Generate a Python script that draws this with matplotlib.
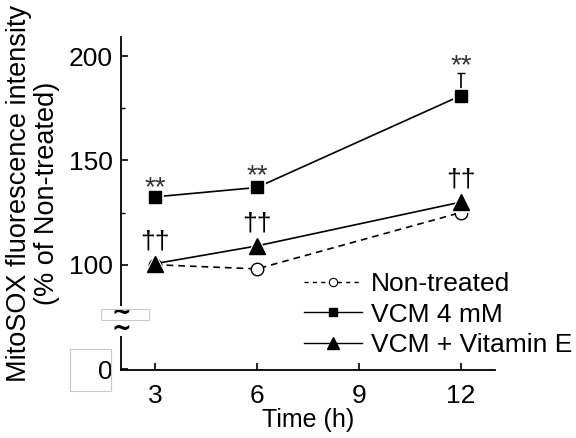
import matplotlib
matplotlib.use("Agg")
import matplotlib.pyplot as plt
from matplotlib.patches import Rectangle
from matplotlib.lines import Line2D

plt.rcParams['font.family'] = ['Liberation Sans', 'DejaVu Sans']

# ---- data ----
time_h = [3, 6, 12]
non_treated = [100, 98, 125]
non_treated_err = [1, 1.5, 2]          # lower
vcm = [132.5, 137, 181]
vcm_err = [1, 2, 11]                   # upper
vcm_vite = [100.5, 109, 130]
vcm_vite_err = [3, 1, 1]               # lower
vcm_marks = ['**', '**', '**']
vite_marks = ['††', '††', '††']
x_ticks = [3, 6, 9, 12]
y_ticks = [50, 100, 150, 200]
y_ticklabels = ['0', '100', '150', '200']
series_labels = ['Non-treated', 'VCM 4 mM', 'VCM + Vitamin E']

fig = plt.figure(figsize=(5.76, 4.38), dpi=100)
ax = fig.add_axes([0.21, 0.155, 0.649, 0.76])

lw = 1.2
# Non-treated (dashed, open circles)
ax.plot(time_h, non_treated, ls=(0, (4, 3)), color='black', lw=lw, zorder=2)
ax.errorbar(time_h, non_treated, yerr=[non_treated_err, [0]*3], fmt='none',
            ecolor='black', elinewidth=1, capsize=2.5, zorder=2)
ax.plot(time_h, non_treated, 'o', ms=9, mfc='white', mec='black', mew=1.0, zorder=3)

# VCM + Vitamin E (solid, triangles)
ax.plot(time_h, vcm_vite, '-', color='black', lw=lw, zorder=4)
ax.errorbar(time_h, vcm_vite, yerr=[vcm_vite_err, [0]*3], fmt='none',
            ecolor='black', elinewidth=1, capsize=2.5, zorder=4)
ax.plot(time_h, vcm_vite, '^', ms=13, mfc='white', mec='white', mew=2, zorder=5)
ax.plot(time_h, vcm_vite, '^', ms=11, mfc='black', mec='black', zorder=6)

# VCM 4 mM (solid, squares)
ax.plot(time_h, vcm, '-', color='black', lw=lw, zorder=4)
ax.errorbar(time_h, vcm, yerr=[[0]*3, vcm_err], fmt='none',
            ecolor='black', elinewidth=1.2, capsize=3, zorder=4)
ax.plot(time_h, vcm, 's', ms=10, mfc='white', mec='white', mew=2, zorder=5)
ax.plot(time_h, vcm, 's', ms=8, mfc='black', mec='black', zorder=6)

# significance marks
for x, y, e, m in zip(time_h, vcm, vcm_err, vcm_marks):
    ax.annotate(m, (x, y + e), xytext=(0, 5), textcoords='offset points',
                ha='center', va='center', fontsize=20, color='#333333')
for x, y, m in zip(time_h, vcm_vite, vite_marks):
    ax.annotate(m, (x, y), xytext=(0, 16), textcoords='offset points',
                ha='center', va='center', fontsize=19, color='black')

ax.set_xlim(2, 13)
ax.set_ylim(49.5, 209)
ax.set_xticks(x_ticks)
ax.set_yticks(y_ticks)
ax.set_yticklabels(y_ticklabels)
ax.set_yticks([125, 175], minor=True)
ax.tick_params(axis='both', which='major', direction='in', length=5, width=1.2,
               labelsize=19)
ax.tick_params(axis='x', which='major', pad=10)
ax.tick_params(axis='y', which='major', pad=6)
ax.tick_params(axis='y', which='minor', direction='in', length=3, width=1.0)
for s in ['top', 'right']:
    ax.spines[s].set_visible(False)
for s in ['left', 'bottom']:
    ax.spines[s].set_linewidth(1.3)

ax.set_xlabel('Time (h)', fontsize=18, labelpad=0)
ax.set_ylabel('MitoSOX fluorescence intensity\n(% of Non-treated)', fontsize=19.5,
              linespacing=1.1)
ax.yaxis.set_label_coords(-0.163, 0.53)

# axis break: white gap in spine plus two tildes
ax.add_patch(Rectangle((-0.03, 66), 0.06, 14, transform=ax.get_yaxis_transform(),
                       fc='white', ec='none', clip_on=False, zorder=9))
ax.text(0, 73.2, '~\n~', transform=ax.get_yaxis_transform(), ha='center',
        va='center', fontsize=17, fontweight='bold', family='DejaVu Sans',
        linespacing=0.55, clip_on=False, zorder=10)
# faint boxes (artifacts in original)
fig.patches.append(Rectangle((101/576, 1-320/438), 48/576, 11/438,
                             transform=fig.transFigure, fill=False,
                             ec='#c8c8c8', lw=0.8))
fig.patches.append(Rectangle((70/576, 1-391/438), 41/576, 42/438,
                             transform=fig.transFigure, fill=False,
                             ec='#c8c8c8', lw=0.8))

handles = [
    Line2D([], [], ls=(0, (3, 3)), color='black', lw=1.0, marker='o', ms=6,
           mfc='white', mec='black', mew=0.8),
    Line2D([], [], ls='-', color='black', lw=1.0, marker='s', ms=6, mfc='black'),
    Line2D([], [], ls='-', color='black', lw=1.0, marker='^', ms=8, mfc='black'),
]
fig.legend(handles, series_labels, loc='upper left',
           bbox_to_anchor=(304/576, 1-272/438), frameon=False, fontsize=19,
           handlelength=2.2, handletextpad=0.35, labelspacing=0.25,
           borderaxespad=0, borderpad=0)

fig.savefig('out.png', dpi=100)
